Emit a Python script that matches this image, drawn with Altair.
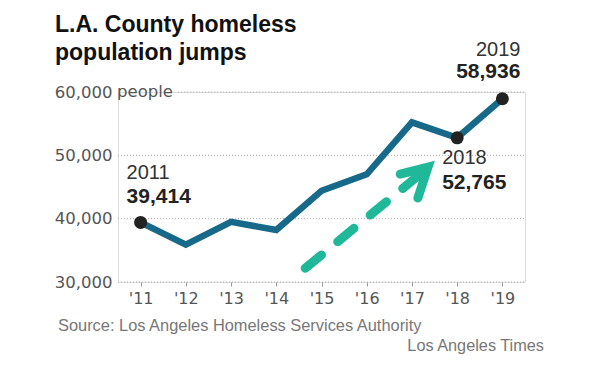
import altair as alt
import pandas as pd

# ---- data ----
years = [2011, 2012, 2013, 2014, 2015, 2016, 2017, 2018, 2019]
population = [39414, 35900, 39500, 38200, 44400, 47000, 55200, 52765, 58936]

tick_labels = ["'11", "'12", "'13", "'14", "'15", "'16", "'17", "'18", "'19"]
y_ticks = [30000, 40000, 50000, 60000]
grid_start = [2010.5, 2010.5, 2010.5, 2011.83]
grid_end = [2019.5, 2019.5, 2019.5, 2019.5]

hi_years = [2011, 2018, 2019]
hi_values = [39414, 52765, 58936]
hi_year_text = ["2011", "2018", "2019"]
hi_value_text = ["39,414", "52,765", "58,936"]

arrow_x = [2014.64, 2017.33]
arrow_y = [32170, 47900]
chev_x = [2016.74, 2017.355, 2017.13]
chev_y = [47040, 48150, 43250]

title_lines = ["L.A. County homeless", "population jumps"]
source_text = "Source: Los Angeles Homeless Services Authority"
credit_text = "Los Angeles Times"

# ---- tables ----
df = pd.DataFrame({"year": years, "value": population})
grid = pd.DataFrame({"v": y_ticks, "x0": grid_start, "x1": grid_end})
hi = pd.DataFrame({"year": hi_years, "value": hi_values,
                   "ylab": hi_year_text, "vlab": hi_value_text})
arrow = pd.DataFrame({"x": arrow_x, "y": arrow_y})
chev = pd.DataFrame({"x": chev_x, "y": chev_y, "o": [0, 1, 2]})

label_expr = "{" + ",".join(f"'{y}':\"{t}\"" for y, t in zip(years, tick_labels)) + "}[datum.value]"

xscale = alt.Scale(domain=[2010.5, 2019.5], nice=False, zero=False)
yscale = alt.Scale(domain=[30000, 60000], nice=False, zero=False)
xaxis = alt.Axis(values=years, labelExpr=label_expr, tickSize=4, tickColor="#999",
                 tickWidth=1, domain=False, grid=False, title=None,
                 labelFont="DejaVu Sans", labelFontSize=16, labelColor="#555",
                 labelPadding=4)
yaxis = alt.Axis(values=y_ticks, labelExpr="format(datum.value, ',')", ticks=False,
                 domain=False, grid=False,
                 title=None, labelFont="DejaVu Sans", labelFontSize=16.5,
                 labelColor="#555", labelPadding=6)

X = lambda f: alt.X(f, type="quantitative", scale=xscale, axis=xaxis)
Y = lambda f: alt.Y(f, type="quantitative", scale=yscale, axis=yaxis)

gridlines = alt.Chart(grid).mark_rule(color="#aaa", strokeDash=[1, 2], strokeWidth=1).encode(
    x=X("x0"), x2="x1", y=Y("v"))

line = alt.Chart(df).mark_line(color="#17698a", strokeWidth=6.5).encode(
    x=X("year"), y=Y("value"))

arrow_shaft = alt.Chart(arrow).mark_line(color="#1fb99a", strokeWidth=9, strokeDash=[21, 21],
                                         strokeCap="round").encode(x=X("x"), y=Y("y"))
arrow_head = alt.Chart(chev).mark_line(color="#1fb99a", strokeWidth=9, strokeCap="round",
                                       strokeJoin="miter").encode(
    x=X("x"), y=Y("y"), order="o:Q")

dots = alt.Chart(hi).mark_point(filled=True, opacity=1, color="#222", size=169).encode(
    x=X("year"), y=Y("value"))

def ann(idx, field, dx, dy, align, bold):
    sub = hi.iloc[[idx]]
    return alt.Chart(sub).mark_text(
        align=align, baseline="middle", dx=dx, dy=dy,
        font="Liberation Sans", fontSize=21 if bold else 20,
        fontWeight="bold" if bold else "normal",
        color="#222" if bold else "#333").encode(x=X("year"), y=Y("value"), text=field + ":N")

anns = [
    ann(0, "ylab", -14, -49, "left", False), ann(0, "vlab", -14, -25, "left", True),
    ann(1, "ylab", -15, 20, "left", False), ann(1, "vlab", -15, 45, "left", True),
    ann(2, "ylab", 18, -49, "right", False), ann(2, "vlab", 18, -27, "right", True),
]

base_txt = alt.Chart(pd.DataFrame({"a": [0]}))
title1 = base_txt.mark_text(align="left", baseline="alphabetic", font="Liberation Sans",
                            fontSize=23, fontWeight="bold", color="#111").encode(
    x=alt.value(-63), y=alt.value(-60), text=alt.value(title_lines[0]))
title2 = base_txt.mark_text(align="left", baseline="alphabetic", font="Liberation Sans",
                            fontSize=23, fontWeight="bold", color="#111").encode(
    x=alt.value(-63), y=alt.value(-32), text=alt.value(title_lines[1]))
people = alt.Chart(pd.DataFrame({"v": [60000]})).mark_text(
    align="left", baseline="middle", font="DejaVu Sans", fontSize=16.5, color="#555").encode(
    x=alt.value(-1), y=Y("v"), text=alt.value("people"))
source = base_txt.mark_text(align="left", baseline="middle", font="Liberation Sans",
                            fontSize=16.4, color="#777").encode(
    x=alt.value(-60), y=alt.value(234), text=alt.value(source_text))
credit = base_txt.mark_text(align="right", baseline="middle", font="Liberation Sans",
                            fontSize=16.3, color="#777").encode(
    x=alt.value(426), y=alt.value(254), text=alt.value(credit_text))

chart = alt.layer(
    gridlines, arrow_shaft, arrow_head, line, dots, *anns,
    title1, title2, people, source, credit
).properties(
    width=407, height=190,
    padding={"left": 110, "top": 84, "right": 60, "bottom": 78},
    autosize=alt.AutoSizeParams(type="none")
).configure_view(stroke=None).configure(background="white")

chart.save("out.html", embed_options={"renderer": "svg", "actions": False})
